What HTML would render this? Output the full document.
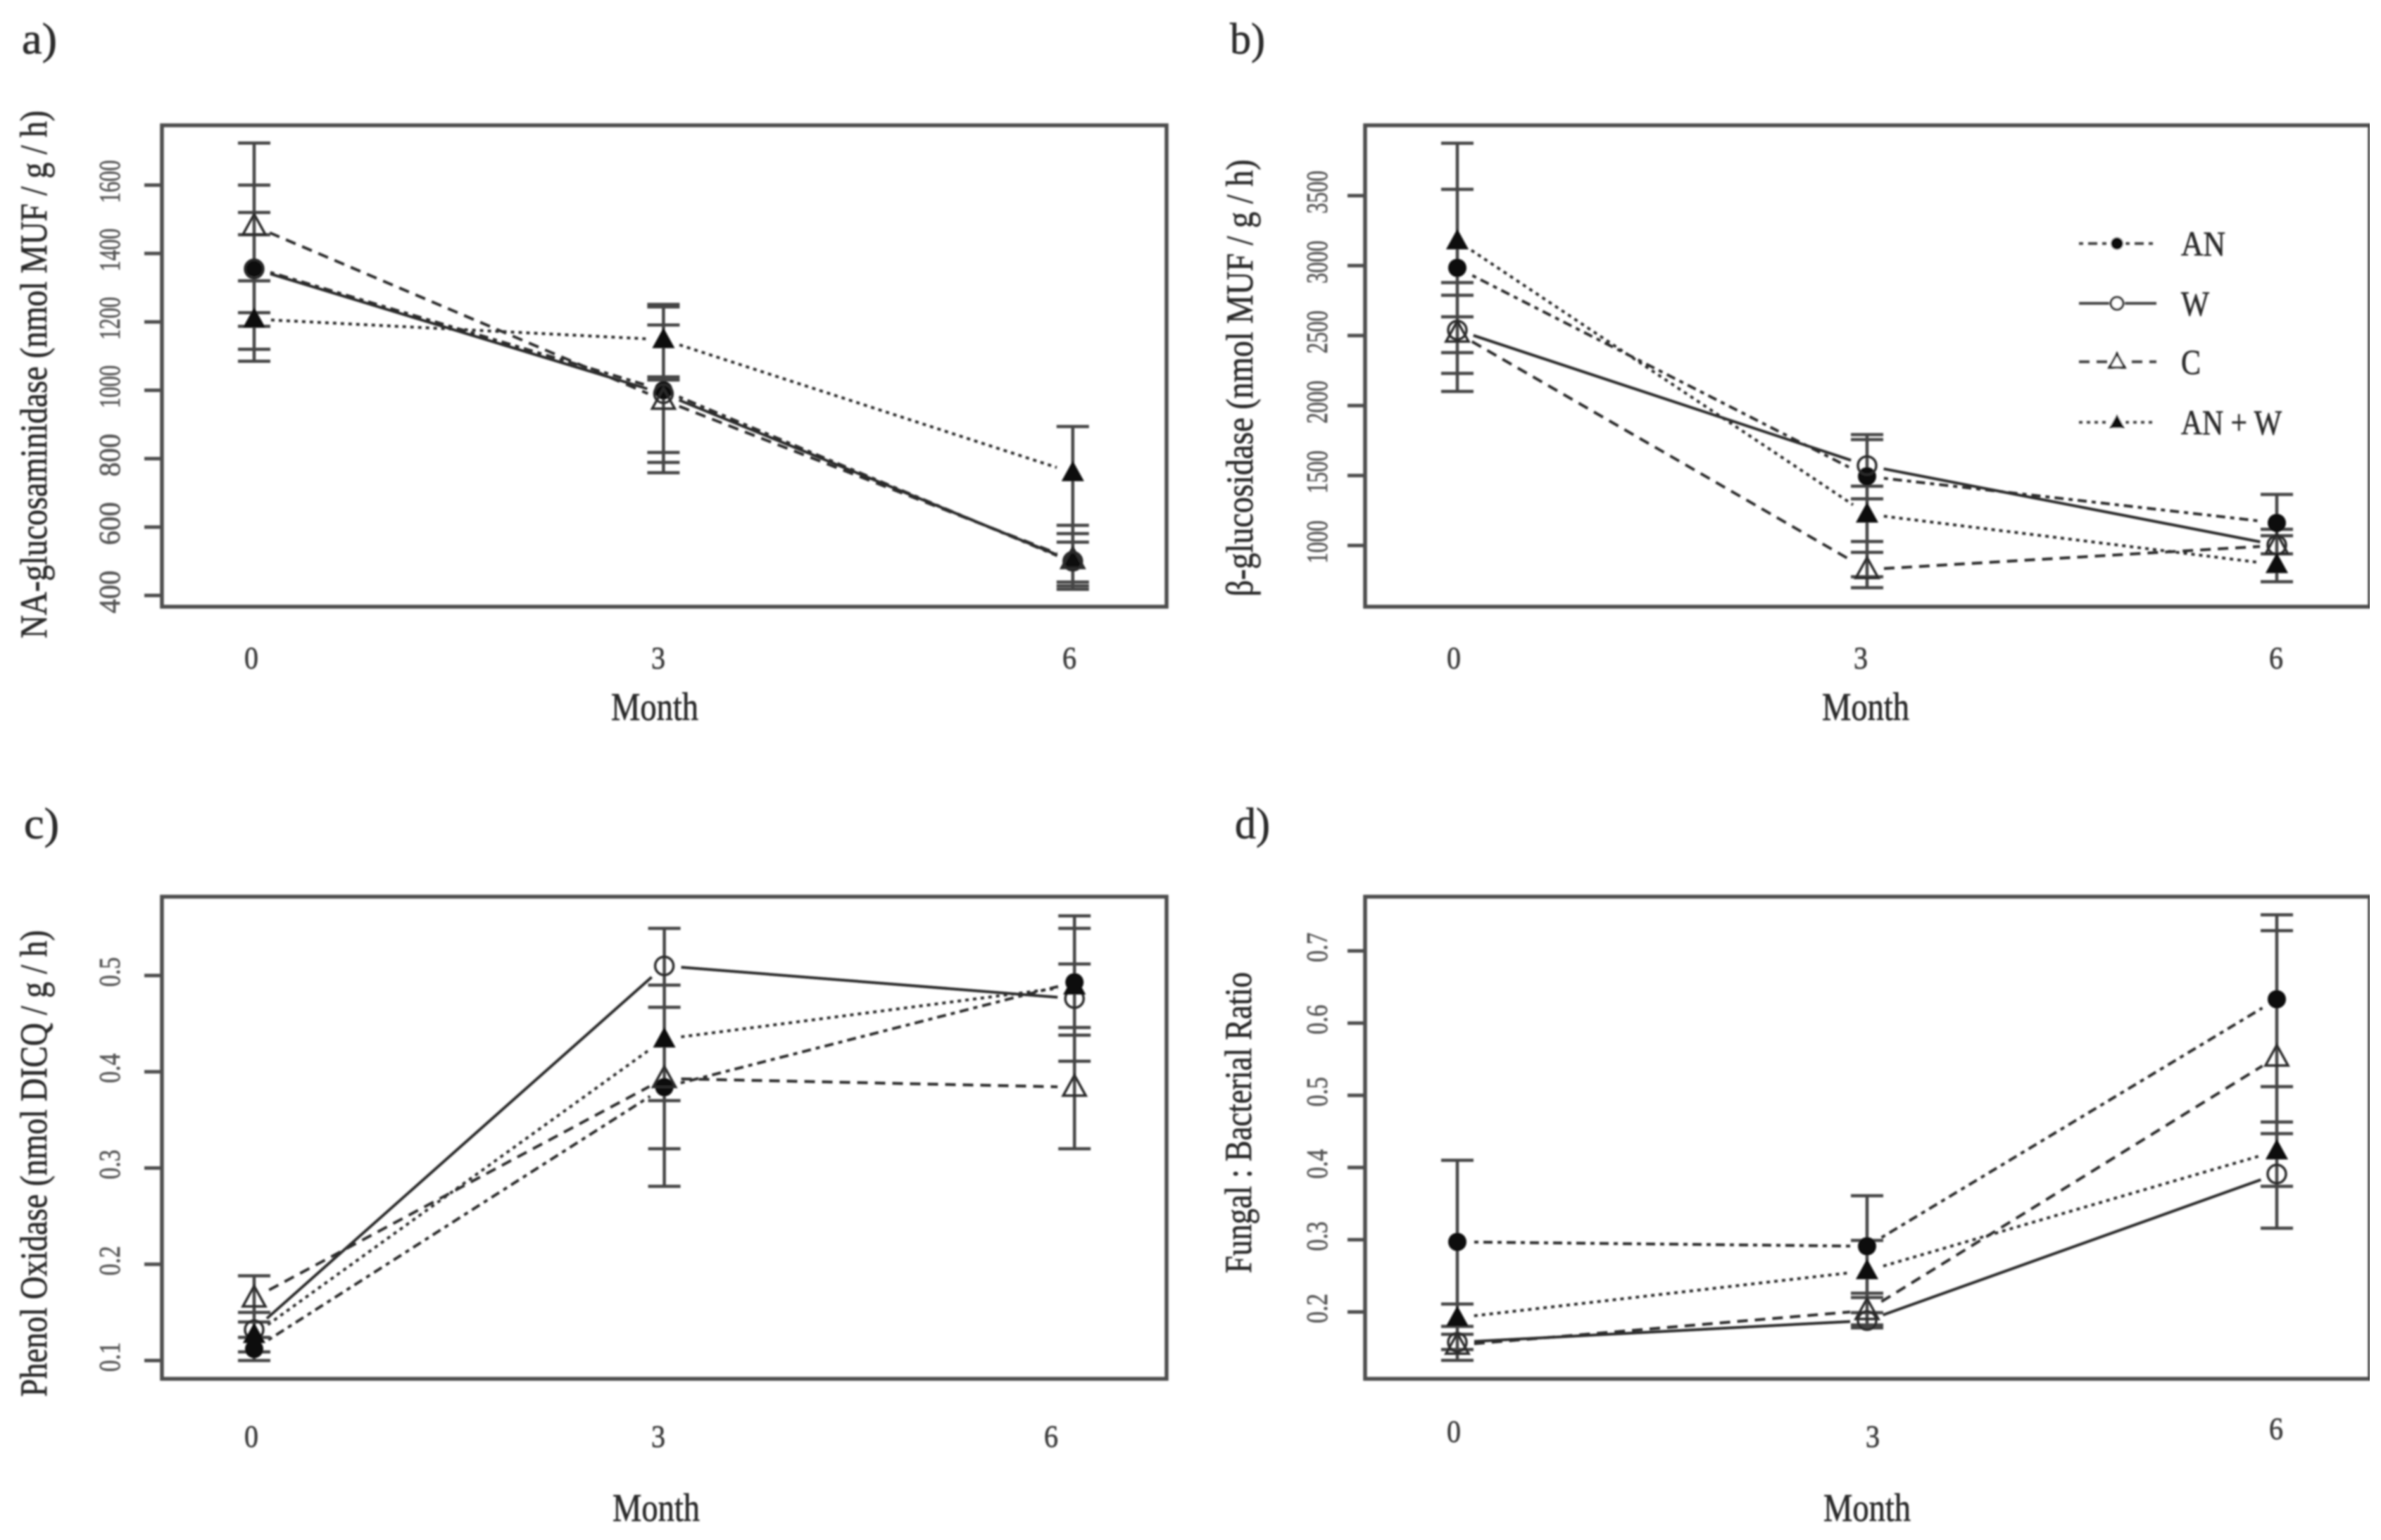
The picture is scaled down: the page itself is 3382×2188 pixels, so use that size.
<!DOCTYPE html>
<html lang="en">
<head>
<meta charset="utf-8">
<title>Enzyme activity over time</title>
<style>
html,body{margin:0;padding:0;background:#fff;}
svg{display:block;}
text{font-family:"Liberation Serif",serif;}
</style>
</head>
<body>
<svg id="figure" xmlns="http://www.w3.org/2000/svg" width="3382" height="2188" viewBox="0 0 3382 2188">
<defs><filter id="soft" x="0" y="0" width="100%" height="100%"><feGaussianBlur stdDeviation="1.3"/></filter></defs>
<rect width="3382" height="2188" fill="#fff"/>
<g id="root" filter="url(#soft)"></g>
</svg>
<script>
const months = [0, 3, 6];
const seriesNames = ['AN', 'W', 'C', 'AN + W'];

const aTicks = [400, 600, 800, 1000, 1200, 1400, 1600];
const aAN = [1359, 1000, 497];
const aW = [1355, 990, 500];
const aC = [1480, 971, 505];
const aANW = [1208, 1148, 759];
const aCaps0 = [1723, 1600, 1520, 1455, 1320, 1227, 1187, 1120, 1085];
const aCaps3 = [1251, 1244, 1191, 1039, 1030, 818, 789, 759];
const aCaps6 = [894, 605, 581, 556, 439, 428, 418];

const bTicks = [1000, 1500, 2000, 2500, 3000, 3500];
const bAN = [2984, 1494, 1161];
const bW = [2539, 1571, 1003];
const bC = [2518, 828, 1000];
const bANW = [3177, 1224, 863];
const bCaps0 = [3875, 3545, 2879, 2788, 2634, 2378, 2230, 2101];
const bCaps3 = [1792, 1757, 1424, 1333, 1028, 951, 776, 698];
const bCaps6 = [1365, 1116, 1070, 940, 741];

const cTicks = [0.1, 0.2, 0.3, 0.4, 0.5];
const cAN = [0.112, 0.384, 0.493];
const cW = [0.132, 0.51, 0.476];
const cC = [0.165, 0.393, 0.384];
const cANW = [0.127, 0.434, 0.489];
const cCaps0 = [0.188, 0.15, 0.14, 0.124, 0.109, 0.1];
const cCaps3 = [0.549, 0.49, 0.467, 0.37, 0.32, 0.281];
const cCaps6 = [0.562, 0.549, 0.512, 0.446, 0.438, 0.411, 0.32];

const dTicks = [0.2, 0.3, 0.4, 0.5, 0.6, 0.7];
const dAN = [0.297, 0.291, 0.633];
const dW = [0.158, 0.188, 0.391];
const dC = [0.154, 0.202, 0.553];
const dANW = [0.192, 0.257, 0.423];
const dCaps0 = [0.41, 0.211, 0.18, 0.169, 0.148, 0.133];
const dCaps3 = [0.361, 0.299, 0.226, 0.22, 0.199, 0.182, 0.178];
const dCaps6 = [0.75, 0.728, 0.512, 0.463, 0.447, 0.374, 0.316];

const NS = 'http://www.w3.org/2000/svg';
const root = document.getElementById('root');
const INK = '#2a2a2a', AXIS = '#4d4d4d';
const DASH = {AN: '6 7 13 7', W: '', C: '15 10', 'AN + W': '5 6'};
const GAP = 24, CAP = 23;

function node(tag, attrs, parent) {
  const el = document.createElementNS(NS, tag);
  for (const k in attrs) el.setAttribute(k, attrs[k]);
  (parent || root).appendChild(el);
  return el;
}
function label(str, x, y, size, fill, opts, parent) {
  const o = opts || {};
  const a = {x: x, y: y, 'font-size': size, fill: fill, stroke: fill, 'stroke-width': o.weight === undefined ? 0.7 : o.weight,
    'text-anchor': o.anchor || 'middle', 'dominant-baseline': 'central'};
  if (o.len) { a.textLength = o.len; a.lengthAdjust = 'spacingAndGlyphs'; }
  if (o.rot) a.transform = 'rotate(-90 ' + x + ' ' + y + ')';
  const t = node('text', a, parent);
  t.textContent = str;
  return t;
}
function marker(kind, x, y, s, parent) {
  if (kind === 'AN') return node('circle', {cx: x, cy: y, r: 13 * s, fill: '#0a0a0a'}, parent);
  if (kind === 'W') return node('circle', {cx: x, cy: y, r: 13 * s, fill: 'none', stroke: INK, 'stroke-width': 3.5}, parent);
  const pts = [[x, y - 17 * s], [x - 16 * s, y + 12 * s], [x + 16 * s, y + 12 * s]].join(' ');
  if (kind === 'C') return node('polygon', {points: pts, fill: 'none', stroke: INK, 'stroke-width': 3.5}, parent);
  return node('polygon', {points: pts, fill: '#0a0a0a'}, parent);
}

const panels = [
  {id: 'a', left: 230, right: 1657, top: 178, bottom: 862, x0: 361, dx: 193.8,
   v0: 400, p0: 846, v1: 1600, p1: 263, ticks: aTicks, fmt: function (v) { return String(v); },
   series: [aAN, aW, aC, aANW], caps: [aCaps0, aCaps3, aCaps6],
   tickLabelX: 157, tickLabelLen: 61,
   xLabelX: [357, 935, 1519], xLabelY: [935, 935, 935],
   monthX: 930, monthY: 1005, title: 'a)', titleX: 56, titleY: 56,
   yTitle: 'NA-glucosaminidase (nmol MUF / g / h)', yTitleX: 48, yTitleY: 532, yTitleLen: 750},
  {id: 'b', left: 1939, right: 3366, top: 178, bottom: 862, x0: 2070, dx: 194,
   v0: 1000, p0: 775, v1: 3500, p1: 278, ticks: bTicks, fmt: function (v) { return String(v); },
   series: [bAN, bW, bC, bANW], caps: [bCaps0, bCaps3, bCaps6],
   tickLabelX: 1872, tickLabelLen: 61,
   xLabelX: [2065, 2643, 3233], xLabelY: [935, 935, 935],
   monthX: 2650, monthY: 1005, title: 'b)', titleX: 1772, titleY: 56,
   yTitle: '\u03B2-glucosidase  (nmol MUF / g / h)', yTitleX: 1761, yTitleY: 537, yTitleLen: 621},
  {id: 'c', left: 230, right: 1657, top: 1274, bottom: 1959, x0: 361, dx: 194.2,
   v0: 0.1, p0: 1933, v1: 0.5, p1: 1386, ticks: cTicks, fmt: function (v) { return v.toFixed(1); },
   series: [cAN, cW, cC, cANW], caps: [cCaps0, cCaps3, cCaps6],
   tickLabelX: 157, tickLabelLen: 42,
   xLabelX: [357, 935, 1493], xLabelY: [2041, 2041, 2041],
   monthX: 932, monthY: 2143, title: 'c)', titleX: 59, titleY: 1171,
   yTitle: 'Phenol Oxidase (nmol DICQ / g / h)', yTitleX: 48, yTitleY: 1653, yTitleLen: 663},
  {id: 'd', left: 1939, right: 3366, top: 1274, bottom: 1959, x0: 2070, dx: 194,
   v0: 0.2, p0: 1864, v1: 0.7, p1: 1351, ticks: dTicks, fmt: function (v) { return v.toFixed(1); },
   series: [dAN, dW, dC, dANW], caps: [dCaps0, dCaps3, dCaps6],
   tickLabelX: 1872, tickLabelLen: 42,
   xLabelX: [2065, 2660, 3233], xLabelY: [2034, 2041, 2030],
   monthX: 2652, monthY: 2143, title: 'd)', titleX: 1779, titleY: 1171,
   yTitle: 'Fungal : Bacterial Ratio', yTitleX: 1759, yTitleY: 1595, yTitleLen: 428}
];

panels.forEach(function (p) {
  const xScale = function (m) { return p.x0 + m * p.dx; };
  const yScale = function (v) { return p.p0 + (v - p.v0) * (p.p1 - p.p0) / (p.v1 - p.v0); };
  const g = node('g', {});
  
  

  const title = label(p.title, p.titleX, p.titleY, 62, '#2a2a2a', {len: 50}, g);
  
  

  const ytitle = label(p.yTitle, p.yTitleX, p.yTitleY, 54, '#2a2a2a', {rot: true, len: p.yTitleLen}, g);
  
  

  const xtitle = label('Month', p.monthX, p.monthY, 56, '#2a2a2a', {len: 124}, g);
  
  

  const frame = node('rect', {x: p.left, y: p.top, width: p.right - p.left, height: p.bottom - p.top, fill: 'none', stroke: AXIS, 'stroke-width': 5.5}, g);
  
  

  p.ticks.forEach(function (t) {
    const y = yScale(t);
    const mark = node('line', {x1: p.left - 25, x2: p.left, y1: y, y2: y, stroke: AXIS, 'stroke-width': 5}, g);
    
    
    const tl = label(p.fmt(t), p.tickLabelX, y - 5, 42, '#555', {rot: true, len: p.tickLabelLen}, g);
    
    
  });
  months.forEach(function (m, i) {
    const tl = label(String(m), p.xLabelX[i], p.xLabelY[i], 44, '#3a3a3a', {len: 20}, g);
    
    
  });

  p.series.forEach(function (vals, si) {
    const name = seriesNames[si];
    for (let i = 0; i < vals.length - 1; i++) {
      const x1 = xScale(months[i]), x2 = xScale(months[i + 1]);
      const y1 = yScale(vals[i]), y2 = yScale(vals[i + 1]);
      const len = Math.hypot(x2 - x1, y2 - y1);
      if (len <= 2 * GAP) continue;
      const ux = (x2 - x1) / len, uy = (y2 - y1) / len;
      const seg = node('line', {x1: x1 + ux * GAP, y1: y1 + uy * GAP, x2: x2 - ux * GAP, y2: y2 - uy * GAP,
        stroke: INK, 'stroke-width': 4, 'stroke-dasharray': DASH[name]}, g);
      
      
    }
  });

  p.caps.forEach(function (list, i) {
    const x = xScale(months[i]);
    const stem = node('line', {x1: x, x2: x, y1: yScale(Math.max.apply(null, list)), y2: yScale(Math.min.apply(null, list)), stroke: '#444', 'stroke-width': 4.5}, g);
    
    
    list.forEach(function (v) {
      const cap = node('line', {x1: x - CAP, x2: x + CAP, y1: yScale(v), y2: yScale(v), stroke: '#444', 'stroke-width': 4.5}, g);
      
      
    });
  });

  p.series.forEach(function (vals, si) {
    vals.forEach(function (v, i) {
      const mk = marker(seriesNames[si], xScale(months[i]), yScale(v), 1, g);
      
      
    });
  });
});

const legend = node('g', {});


const legendRowY = [346, 431, 514, 600];
const legendTextLen = [63, 40, 28, 143];
seriesNames.forEach(function (name, i) {
  const y = legendRowY[i];
  const row = node('g', {}, legend);
  
  
  node('line', {x1: 2953, x2: 3063, y1: y, y2: y, stroke: '#444', 'stroke-width': 4, 'stroke-dasharray': DASH[name]}, row);
  node('circle', {cx: 3007, cy: y, r: 11, fill: '#fff'}, row);
  marker(name, 3007, y, 0.68, row);
  label(name, 3098, y, 50, '#2a2a2a', {anchor: 'start', len: legendTextLen[i]}, row);
});
</script>
</body>
</html>
